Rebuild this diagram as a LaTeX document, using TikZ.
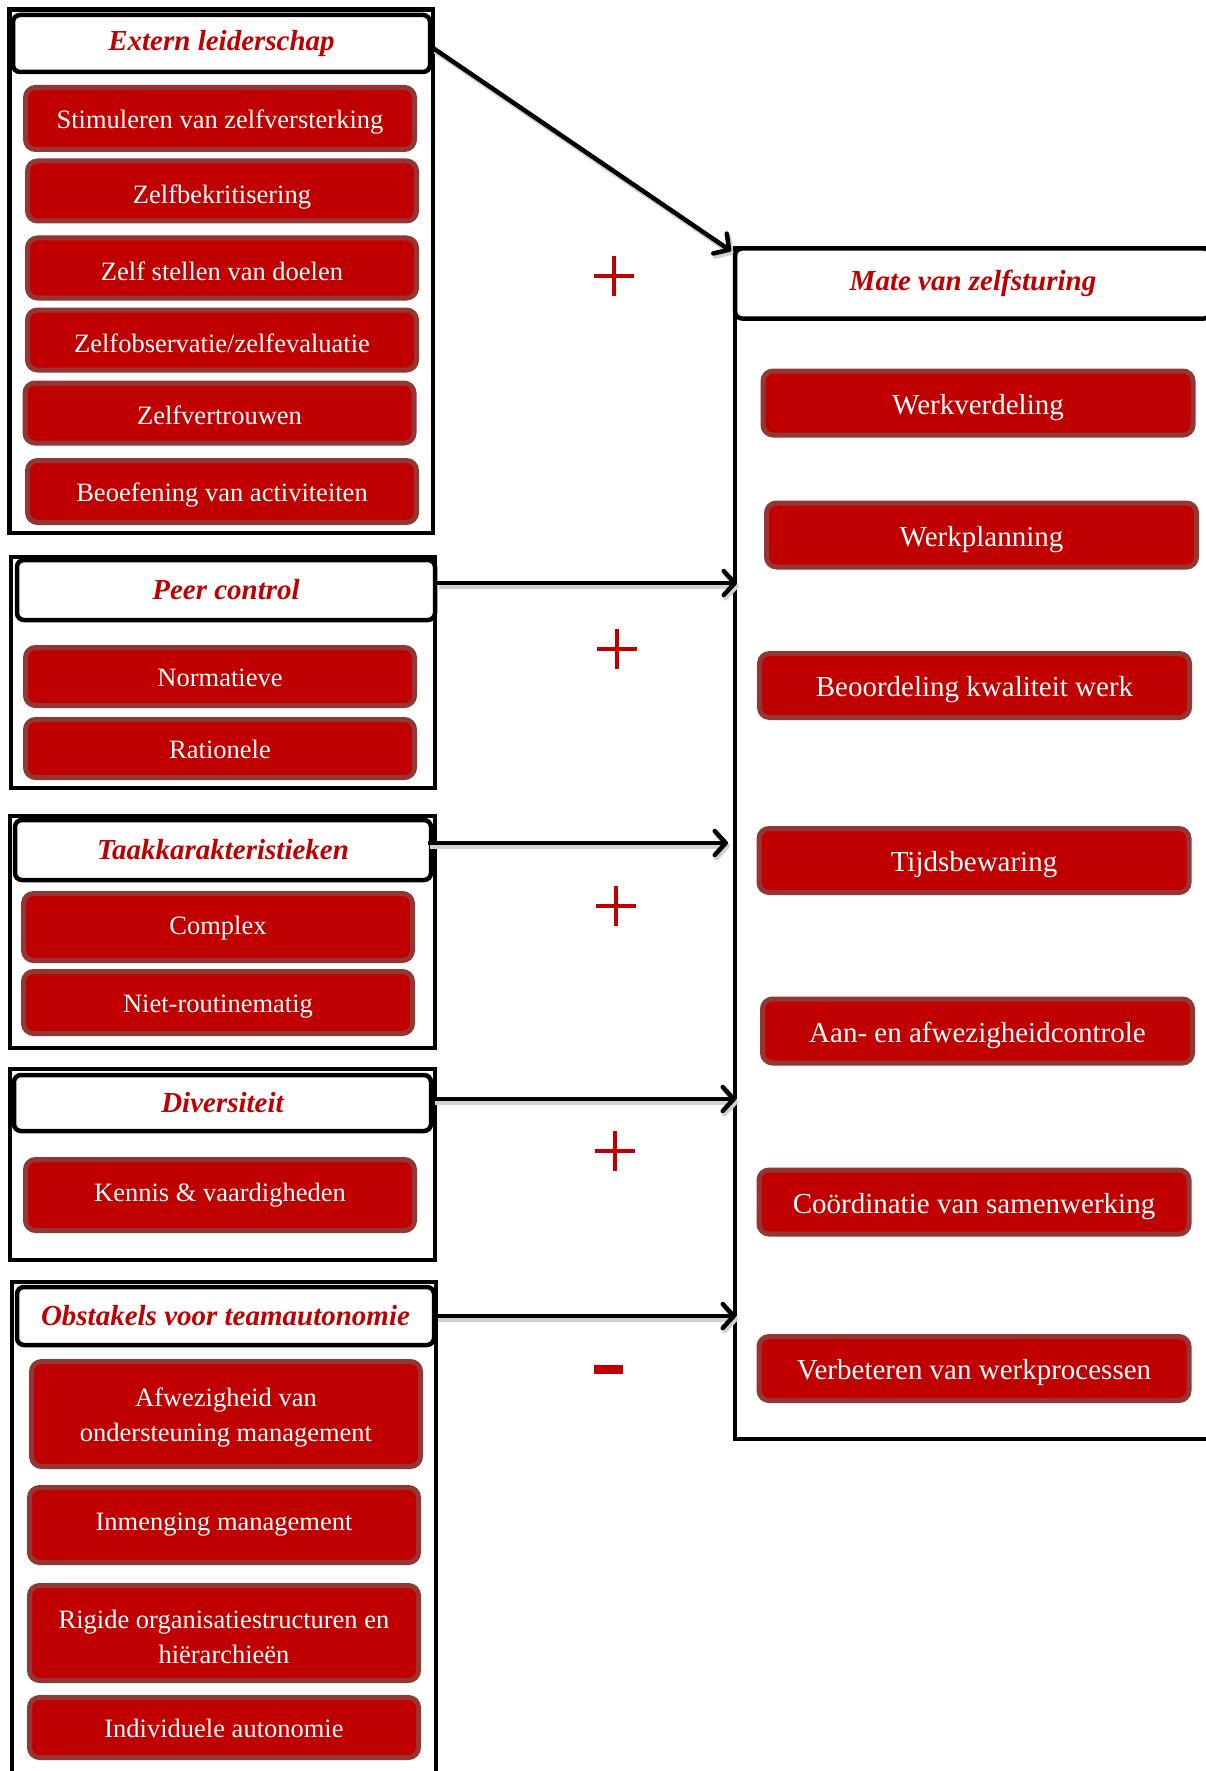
\documentclass[tikz,border=0pt]{standalone}
\usepackage{fontspec}
\setmainfont{Liberation Serif}
\usetikzlibrary{arrows.meta}
\definecolor{boxred}{HTML}{C00000}
\definecolor{boxedge}{HTML}{943634}
\begin{document}
\begin{tikzpicture}[x=1pt,y=-1pt,
 redbox/.style={draw=boxedge, fill=boxred, line width=5pt, rounded corners=10pt, text=white, align=center, inner sep=0pt},
 lboxm/.style={redbox, font=\fontsize{26.5}{35}\selectfont, minimum width=389pt, minimum height=#1},
 lbox/.style={lboxm=#1, text height=25.7pt, text depth=6pt},
 lbox/.default=60pt,
 rbox/.style={redbox, font=\fontsize{29}{35}\selectfont, minimum width=430pt, minimum height=64pt, text height=28.8pt, text depth=6.3pt},
 titlebox/.style={draw=black, fill=white, line width=4.5pt, rounded corners=7pt, text=boxred, inner sep=0pt, font=\fontsize{29}{35}\selectfont\bfseries\itshape},
 frame/.style={draw=black, line width=4.5pt},
 arr/.style={draw=black, line width=4.5pt, -{Straight Barb[length=11pt,width=24pt,round]}},
 arrshadow/.style={draw=black!18, line width=5pt, -{Straight Barb[length=11pt,width=24pt,round]}},
 sign/.style={draw=boxred, line width=4pt}
]
\useasboundingbox (0,0) rectangle (1206,1771);
\fill[white] (0,0) rectangle (1206,1771);

% ---------- frames ----------
\draw[frame] (9.5,9.5) rectangle (433,533);
\draw[frame] (11,557) rectangle (435,788);
\draw[frame] (10,816) rectangle (435,1048);
\draw[frame] (10,1069) rectangle (435,1260);
\draw[frame] (12,1282) rectangle (436,1800);
\draw[frame] (735,248) rectangle (1214,1439);

% ---------- titles ----------
\node[titlebox, minimum width=417pt, minimum height=57pt] (t1) at (221.5,43.5) {Extern leiderschap};
\node[titlebox, minimum width=418pt, minimum height=60pt] (t2) at (226,590) {Peer control};
\node[titlebox, minimum width=416pt, minimum height=60pt] (t3) at (223,850) {Taakkarakteristieken};
\node[titlebox, minimum width=417pt, minimum height=56pt] (t4) at (222.5,1103) {Diversiteit};
\node[titlebox, minimum width=417pt, minimum height=58pt] (t5) at (225.5,1316) {Obstakels voor teamautonomie};
\node[titlebox, minimum width=476pt, minimum height=70pt] (tr) at (973,283.5) {Mate van zelfsturing};

% ---------- group 1 ----------
\node[lbox=62pt] (e1) at (220,118.5) {Stimuleren van zelfversterking};
\node[lbox, text height=30.2pt] (e2) at (222,191) {Zelfbekritisering};
\node[lbox, text height=30.2pt] (e3) at (222,268) {Zelf stellen van doelen};
\node[lbox, text height=30.2pt] (e4) at (222,340) {Zelfobservatie/zelfevaluatie};
\node[lbox, text height=28pt] (e5) at (219.5,413) {Zelfvertrouwen};
\node[lbox=62pt] (e6) at (222,491.5) {Beoefening van activiteiten};

% ---------- group 2 ----------
\node[lbox=58pt] (p1) at (220,676.5) {Normatieve};
\node[lbox=58pt] (p2) at (220,748.5) {Rationele};

% ---------- group 3 ----------
\node[lbox=67pt, text height=21.2pt] (k1) at (218,927) {Complex};
\node[lbox=62pt] (k2) at (218,1002.5) {Niet-routinematig};

% ---------- group 4 ----------
\node[lbox=71pt, text height=18.9pt] (d1) at (220,1195) {Kennis \& vaardigheden};

% ---------- group 5 ----------
\node[lboxm=105pt] (o1) at (226,1414) {\rule{0pt}{25.5pt}Afwezigheid van\\ondersteuning management};
\node[lbox=75pt, text height=16.7pt] (o2) at (224,1525) {Inmenging management};
\node[lboxm=95pt] (o3) at (224,1633) {\rule{0pt}{27pt}Rigide organisatiestructuren en\\hiërarchieën};
\node[lbox] (o4) at (224,1727.5) {Individuele autonomie};

% ---------- right group ----------
\node[rbox] (r1) at (978,403) {Werkverdeling};
\node[rbox] (r2) at (981.5,535) {Werkplanning};
\node[rbox] (r3) at (974.5,685.5) {Beoordeling kwaliteit werk};
\node[rbox] (r4) at (974,860.5) {Tijdsbewaring};
\node[rbox] (r5) at (977.5,1031) {Aan- en afwezigheidcontrole};
\node[rbox] (r6) at (974,1202) {Coördinatie van samenwerking};
\node[rbox] (r7) at (974,1368.5) {Verbeteren van werkprocessen};

% ---------- connectors ----------
\coordinate (a1s) at (433,48);
\coordinate (a1e) at (731,251);
\coordinate (a2e) at (737,583);
\coordinate (a3e) at (728,843);
\coordinate (a4e) at (736,1099);
\coordinate (a5e) at (736,1316);

\draw[arrshadow] ([shift={(2,3)}]a1s) -- ([shift={(2,3)}]a1e);
\draw[arrshadow] ([shift={(2,3)}]t2.east|-a2e) -- ([shift={(2,3)}]a2e);
\draw[arrshadow] ([shift={(2,3)}]428,843) -- ([shift={(2,3)}]a3e);
\draw[arrshadow] ([shift={(2,3)}]t4.east|-a4e) -- ([shift={(2,3)}]a4e);
\draw[arrshadow] ([shift={(2,3)}]t5.east|-a5e) -- ([shift={(2,3)}]a5e);

\draw[arr] (a1s) -- (a1e);
\draw[arr] (t2.east|-a2e) -- (a2e);
\draw[arr] ([xshift=-5pt]t3.east|-a3e) -- (a3e);
\draw[arr] (t4.east|-a4e) -- (a4e);
\draw[arr] (t5.east|-a5e) -- (a5e);

% ---------- signs ----------
\draw[sign] (593.5,276) -- (634,276) (613.5,256) -- (613.5,296);
\draw[sign] (596.5,649) -- (637,649) (616.5,629) -- (616.5,669);
\draw[sign] (595.5,906) -- (636,906) (615.5,886) -- (615.5,926);
\draw[sign] (594.5,1151) -- (635,1151) (614.5,1131) -- (614.5,1171);
\fill[boxred] (594,1365) rectangle (623,1374);
\end{tikzpicture}
\end{document}
